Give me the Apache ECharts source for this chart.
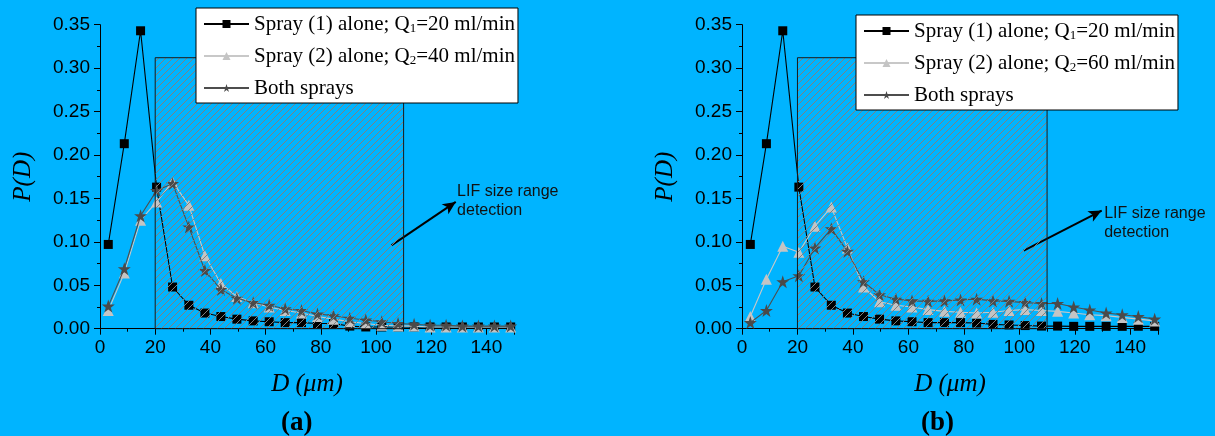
<!DOCTYPE html>
<html>
<head>
<meta charset="utf-8">
<script src="https://cdn.jsdelivr.net/npm/echarts@6/dist/echarts.min.js"></script>
<style>
html,body{margin:0;padding:0;background:#00b4ff;}
#chart{width:1215px;height:436px;}
</style>
</head>
<body>
<div id="chart"></div>
<script>
// ---- data ----
const diameters = [3.0, 8.8, 14.7, 20.5, 26.3, 32.2, 38.0, 43.8, 49.6, 55.5, 61.3, 67.1, 73.0, 78.8, 84.6, 90.5, 96.3, 102.1, 108.0, 113.8, 119.6, 125.4, 131.3, 137.1, 142.9, 148.8];

const spray1A = [0.097, 0.213, 0.343, 0.163, 0.048, 0.027, 0.018, 0.014, 0.011, 0.009, 0.008, 0.007, 0.007, 0.006, 0.006, 0.003, 0.002, 0.002, 0.002, 0.002, 0.002, 0.002, 0.002, 0.002, 0.002, 0.002];
const spray2A = [0.021, 0.064, 0.125, 0.146, 0.169, 0.142, 0.084, 0.052, 0.037, 0.030, 0.025, 0.021, 0.018, 0.014, 0.011, 0.008, 0.006, 0.004, 0.003, 0.003, 0.002, 0.002, 0.002, 0.002, 0.002, 0.002];
const bothA   = [0.026, 0.069, 0.130, 0.159, 0.167, 0.117, 0.067, 0.045, 0.035, 0.030, 0.027, 0.023, 0.021, 0.017, 0.015, 0.012, 0.010, 0.008, 0.006, 0.005, 0.004, 0.004, 0.003, 0.003, 0.003, 0.003];

const spray1B = [0.097, 0.213, 0.343, 0.163, 0.048, 0.027, 0.018, 0.014, 0.011, 0.009, 0.008, 0.007, 0.007, 0.007, 0.0065, 0.005, 0.0043, 0.0036, 0.003, 0.003, 0.0027, 0.0027, 0.0027, 0.0027, 0.0028, 0.0027];
const spray2B = [0.014, 0.057, 0.095, 0.088, 0.118, 0.140, 0.093, 0.048, 0.031, 0.027, 0.025, 0.022, 0.020, 0.019, 0.018, 0.019, 0.021, 0.022, 0.021, 0.020, 0.018, 0.016, 0.015, 0.013, 0.011, 0.009];
const bothB   = [0.007, 0.021, 0.054, 0.061, 0.093, 0.115, 0.089, 0.054, 0.039, 0.034, 0.032, 0.0315, 0.032, 0.033, 0.034, 0.032, 0.0315, 0.030, 0.029, 0.029, 0.025, 0.0215, 0.018, 0.016, 0.014, 0.011];

const lifRange = [20, 110, 0.312];           // D from, D to, height
const arrowA = [[105.6, 0.096], [128.9, 0.146]];
const arrowB = [[101.6, 0.090], [129.7, 0.136]];
const labelA = [129.2, 0.1470];
const labelB = [130.4, 0.1220];

const nameS1 = 'Spray (1) alone; Q1=20 ml/min';
const nameS2A = 'Spray (2) alone; Q2=40 ml/min';
const nameS2B = 'Spray (2) alone; Q2=60 ml/min';
const nameBoth = 'Both sprays';

const yTicks = [0, 0.05, 0.10, 0.15, 0.20, 0.25, 0.30, 0.35];
const xTicks = [0, 20, 40, 60, 80, 100, 120, 140];

// ---- hatch pattern ----
function makeHatch() {
  const s = 7;
  const c = document.createElement('canvas');
  c.width = s; c.height = s;
  const g = c.getContext('2d');
  g.strokeStyle = '#808080';
  g.lineWidth = 1;
  g.beginPath();
  g.moveTo(-1, s + 1); g.lineTo(s + 1, -1);
  g.moveTo(-1 - s, s + 1); g.lineTo(1, -1);
  g.moveTo(s - 1, s + 1); g.lineTo(2 * s + 1, -1);
  g.stroke();
  return c;
}
const hatch = makeHatch();

const SERIF = '"Liberation Serif", "Times New Roman", serif';
const SANS = '"Liberation Sans", Arial, sans-serif';

function pairs(ys) { return diameters.map((d, i) => [d, ys[i]]); }

function xAxisDef(idx) {
  return {
    gridIndex: idx, type: 'value', min: 0, max: 150, interval: 20,
    name: 'D (μm)', nameLocation: 'middle', nameGap: 43,
    nameTextStyle: { fontFamily: SERIF, fontStyle: 'italic', fontSize: 25, color: '#000' },
    axisLine: { show: true, onZero: false, lineStyle: { color: '#000', width: 1 } },
    axisTick: { show: true, inside: false, length: 6, lineStyle: { color: '#000' } },
    minorTick: { show: true, splitNumber: 2, length: 3, lineStyle: { color: '#000' } },
    axisLabel: { fontFamily: SANS, fontSize: 19, color: '#000', margin: 10,
      formatter: v => (xTicks.indexOf(v) >= 0 ? String(v) : '') },
    splitLine: { show: false }
  };
}
function yAxisDef(idx) {
  return {
    gridIndex: idx, type: 'value', min: 0, max: 0.35, interval: 0.05,
    name: 'P(D)', nameLocation: 'middle', nameGap: 64.5, nameRotate: 90,
    nameTextStyle: { fontFamily: SERIF, fontStyle: 'italic', fontSize: 25, color: '#000' },
    axisLine: { show: true, lineStyle: { color: '#000', width: 1 } },
    axisTick: { show: true, inside: false, length: 6, lineStyle: { color: '#000' } },
    minorTick: { show: true, splitNumber: 2, length: 3, lineStyle: { color: '#000' } },
    axisLabel: { fontFamily: SANS, fontSize: 19, color: '#000', margin: 10,
      formatter: v => v.toFixed(2) },
    splitLine: { show: false }
  };
}

function lineSeries(name, idx, ys, kind) {
  const st = {
    s1: { symbol: 'rect', size: 9, color: '#000000', line: '#000000', z: 2 },
    s2: { symbol: 'triangle', size: 11, color: '#c4c4c4', line: '#c8c8c8', z: 3 },
    both: { symbol: 'path://M50,0 L61.8,35.1 L98.9,35.1 L68.9,56.8 L80.3,91.9 L50,70.2 L19.7,91.9 L31.1,56.8 L1.1,35.1 L38.2,35.1 Z', size: 13, color: '#4a4a4a', line: '#4d4d4d', z: 4 }
  }[kind];
  return {
    type: 'line', name: name, xAxisIndex: idx, yAxisIndex: idx,
    data: pairs(ys), symbol: st.symbol, symbolSize: st.size, showSymbol: true,
    itemStyle: { color: st.color, borderWidth: 0 },
    lineStyle: { color: st.line, width: 1.1 },
    z: st.z,
    animation: false
  };
}

function rectSeries(idx) {
  return {
    type: 'custom', xAxisIndex: idx, yAxisIndex: idx, silent: true, z: 10,
    data: [lifRange],
    renderItem: function (params, api) {
      const p0 = api.coord([api.value(0), api.value(2)]);
      const p1 = api.coord([api.value(1), 0]);
      return {
        type: 'rect',
        shape: { x: p0[0], y: p0[1], width: p1[0] - p0[0], height: p1[1] - p0[1] },
        style: { fill: { image: hatch, repeat: 'repeat' }, stroke: '#1a1a1a', lineWidth: 1 }
      };
    }
  };
}

function annotSeries(idx, arrow, label) {
  return {
    type: 'line', xAxisIndex: idx, yAxisIndex: idx, data: [], silent: true, z: 12,
    markLine: {
      silent: true, animation: false,
      symbol: ['none', 'arrow'], symbolSize: [9, 13],
      lineStyle: { color: '#000', width: 2, type: 'solid' },
      label: { show: false },
      data: [[{ coord: arrow[0] }, { coord: arrow[1] }]]
    },
    markPoint: {
      silent: true, animation: false,
      symbol: 'circle', symbolSize: 1, itemStyle: { color: 'rgba(0,0,0,0)' },
      label: { show: true, position: 'right', distance: 0, formatter: 'LIF size range\ndetection',
        fontFamily: SANS, fontSize: 16, lineHeight: 19, color: '#111', align: 'left' },
      data: [{ coord: label }]
    }
  };
}

function legendDef(names, left, top) {
  return {
    data: names, orient: 'vertical', left: left, top: top, z: 30,
    backgroundColor: '#ffffff', borderColor: '#000', borderWidth: 1, borderRadius: 0,
    padding: [5, 3, 4, 7], itemGap: 10, itemWidth: 45, itemHeight: 10,
    selectedMode: false,
    textStyle: { fontFamily: SERIF, fontSize: 21, color: '#000', lineHeight: 22,
      rich: {
        n: { fontFamily: SERIF, fontSize: 21, color: '#000', lineHeight: 22 },
        sub: { fontFamily: SERIF, fontSize: 13, color: '#000', lineHeight: 13, verticalAlign: 'bottom' }
      } },
    formatter: function (name) {
      const m = name.match(/^(.*Q)(\d)(=.*)$/);
      if (m) return '{n|' + m[1] + '}{sub|' + m[2] + '}{n|' + m[3] + '}';
      return '{n|' + name + '}';
    }
  };
}

const chart = echarts.init(document.getElementById('chart'), null, { renderer: 'canvas' });
chart.setOption({
  backgroundColor: '#00b4ff',
  animation: false,
  grid: [
    { left: 100, top: 24.7, width: 414, height: 304 },
    { left: 742, top: 24.7, width: 416, height: 304 }
  ],
  xAxis: [xAxisDef(0), xAxisDef(1)],
  yAxis: [yAxisDef(0), yAxisDef(1)],
  legend: [
    legendDef([nameS1, nameS2A, nameBoth], 196, 8),
    legendDef([nameS1, nameS2B, nameBoth], 856, 15)
  ],
  graphic: [
    { type: 'text', left: 281, top: 410, style: { text: '(a)', font: 'bold 27px ' + SERIF, fill: '#000' } },
    { type: 'text', left: 921, top: 410, style: { text: '(b)', font: 'bold 27px ' + SERIF, fill: '#000' } }
  ],
  series: [
    lineSeries(nameS1, 0, spray1A, 's1'),
    lineSeries(nameS2A, 0, spray2A, 's2'),
    lineSeries(nameBoth, 0, bothA, 'both'),
    rectSeries(0),
    annotSeries(0, arrowA, labelA),
    lineSeries(nameS1, 1, spray1B, 's1'),
    lineSeries(nameS2B, 1, spray2B, 's2'),
    lineSeries(nameBoth, 1, bothB, 'both'),
    rectSeries(1),
    annotSeries(1, arrowB, labelB)
  ]
});
</script>
</body>
</html>
